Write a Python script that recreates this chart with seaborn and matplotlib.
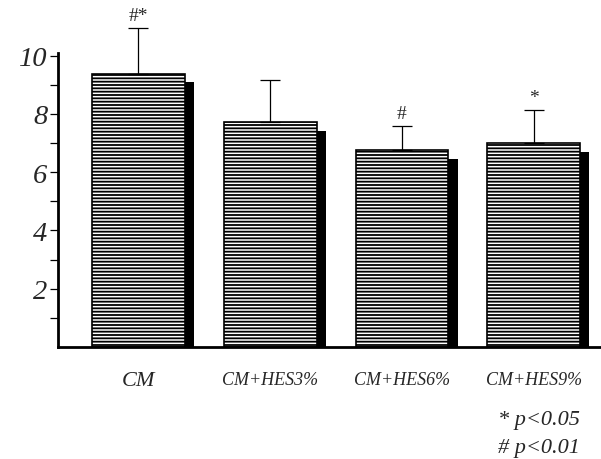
import matplotlib
matplotlib.use("Agg")
import matplotlib.pyplot as plt
import matplotlib.patheffects as pe
import seaborn as sns
import pandas as pd
import numpy as np

# Group means, upper SD and significance marks
groups = ["CM", "CM+HES3%", "CM+HES6%", "CM+HES9%"]
means = [9.37, 7.72, 6.76, 7.00]
sds = [1.57, 1.44, 0.82, 1.13]
marks = ["#*", "", "#", "*"]
y_major = [2, 4, 6, 8, 10]
y_minor = [1, 3, 5, 7, 9]
notes = ["* p<0.05", "# p<0.01"]

sns.set_style("ticks")
plt.rcParams["font.family"] = ["Liberation Serif", "DejaVu Serif"]
plt.rcParams["hatch.linewidth"] = 1.3
plt.rcParams["hatch.color"] = "black"

df = pd.DataFrame({"group": groups, "mean": means})

fig = plt.figure(figsize=(6.01, 4.60), dpi=100)
ax = fig.add_axes([58 / 601, 1 - 348 / 460, 1 - 58 / 601, (348 - 53.6) / 460])

sns.barplot(data=df, x="group", y="mean", order=groups, color="white",
            edgecolor="black", linewidth=1.2, hatch="-----", width=0.705,
            errorbar=None, ax=ax, zorder=2)

# solid drop shadow on each bar
for p in ax.patches:
    p.set_path_effects([
        pe.SimplePatchShadow(offset=(6.6, -6.2), shadow_rgbFace="black", alpha=1.0),
        pe.Normal(),
    ])

x = np.arange(len(groups))
eb = ax.errorbar(x, means, yerr=[np.zeros(len(sds)), sds], fmt="none",
                 ecolor="black", elinewidth=0.9, capsize=7, capthick=0.9, zorder=3)
for art in eb.get_children():
    art.set_clip_on(False)

for xi, m, s, mk in zip(x, means, sds, marks):
    if mk:
        ax.annotate(mk, (xi, m + s), xytext=(0, 3), textcoords="offset points",
                    ha="center", va="bottom", fontsize=14, annotation_clip=False,
                    fontfamily=["Liberation Serif", "DejaVu Serif"])

ax.set_xlim(-0.61, 3.51)
ax.set_ylim(0, 10.1)
ax.set_xlabel("")
ax.set_ylabel("")

ax.set_yticks(y_major)
ax.set_yticks(y_minor, minor=True)
ax.set_yticklabels([str(v) for v in y_major], fontsize=20.5, style="italic")
ax.tick_params(axis="y", which="both", direction="out", length=6, width=0.9,
               pad=1.5, color="black")
ax.tick_params(axis="x", length=0, pad=17)
ax.set_xticks(x)
ax.set_xticklabels(groups, style="italic")
for i, lab in enumerate(ax.get_xticklabels()):
    lab.set_fontsize(16 if i == 0 else 13)

for side in ["top", "right"]:
    ax.spines[side].set_visible(False)
for side in ["left", "bottom"]:
    ax.spines[side].set_linewidth(2.0)
    ax.spines[side].set_color("black")

fig.text(580 / 601, 1 - 421 / 460, notes[0], ha="right", va="center",
         fontsize=16, style="italic")
fig.text(580 / 601, 1 - 449 / 460, notes[1], ha="right", va="center",
         fontsize=16, style="italic")

fig.savefig("out.png", dpi=100, facecolor="white")
